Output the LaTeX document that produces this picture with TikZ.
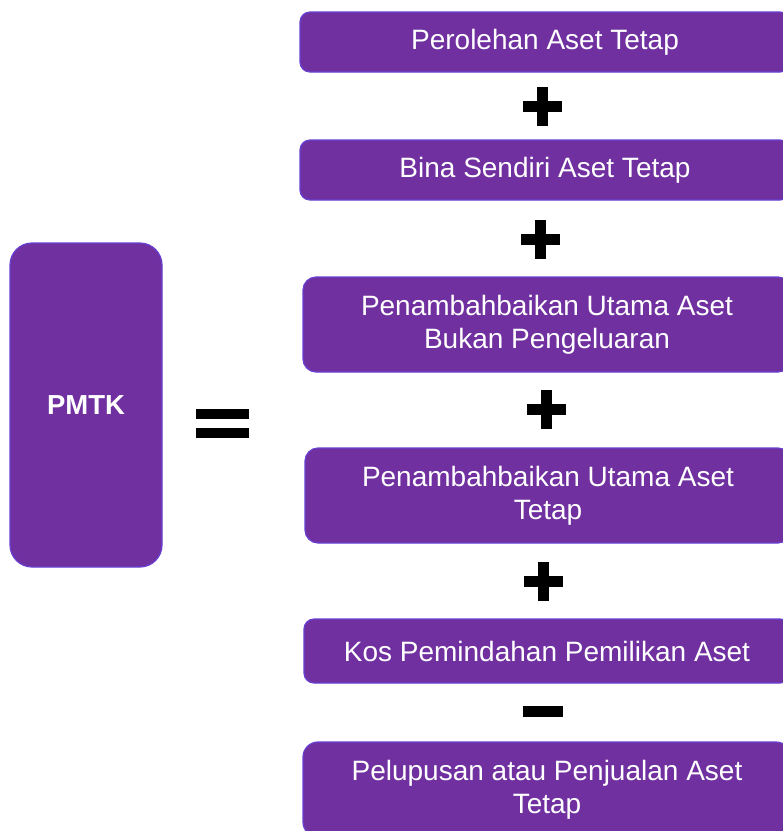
\documentclass[tikz,border=0pt]{standalone}
\usepackage{fontspec}
\setmainfont{Liberation Sans}
\definecolor{boxfill}{RGB}{112,48,160}
\definecolor{boxline}{RGB}{104,64,210}
\begin{document}
\begin{tikzpicture}[x=1pt,y=-1pt,
  purplebox/.style={draw=boxline, line width=1.2pt, fill=boxfill, rounded corners=10pt,
    text=white, align=center, inner sep=0pt,
    font=\fontsize{28}{33}\selectfont},
  plussign/.pic={\fill[black] (-19.5,-5.5) rectangle (19.5,5.5);
                 \fill[black] (-5.5,-19.5) rectangle (5.5,19.5);},
  minussign/.pic={\fill[black] (-20,-5.5) rectangle (20,5.5);}
]
\useasboundingbox (0,0) rectangle (783,831);
\clip (0,0) rectangle (783,831);
\fill[white] (0,0) rectangle (783,831);

\node[purplebox, rounded corners=22pt, minimum width=152pt, minimum height=324pt,
  font=\bfseries\fontsize{27.5}{32}\selectfont] (pmtk) at (86,405) {PMTK};

\node[purplebox, minimum width=490pt, minimum height=60pt] (b1) at (545,42) {Perolehan Aset Tetap};
\node[purplebox, minimum width=490pt, minimum height=60pt] (b2) at (545,170) {Bina Sendiri Aset Tetap};
\node[purplebox, rounded corners=13pt, minimum width=488pt, minimum height=95pt] (b3) at (547,324.5) {Penambahbaikan Utama Aset\\Bukan Pengeluaran};
\node[purplebox, rounded corners=13pt, minimum width=486pt, minimum height=95pt] (b4) at (548,495.5) {Penambahbaikan Utama Aset\\Tetap};
\node[purplebox, minimum width=486pt, minimum height=64pt] (b5) at (547,651) {Kos Pemindahan Pemilikan Aset};
\node[purplebox, rounded corners=15pt, minimum width=488pt, minimum height=95pt] (b6) at (547,789.5) {Pelupusan atau Penjualan Aset\\Tetap};

% equals sign
\fill[black] (196,409) rectangle (249,419);
\fill[black] (196,428) rectangle (249,438);

% operators
\pic at (542.5,106.5) {plussign};
\pic at (540.5,239) {plussign};
\pic at (546.5,409.5) {plussign};
\pic at (543.5,581.5) {plussign};
\pic at (543,711.5) {minussign};
\end{tikzpicture}
\end{document}
